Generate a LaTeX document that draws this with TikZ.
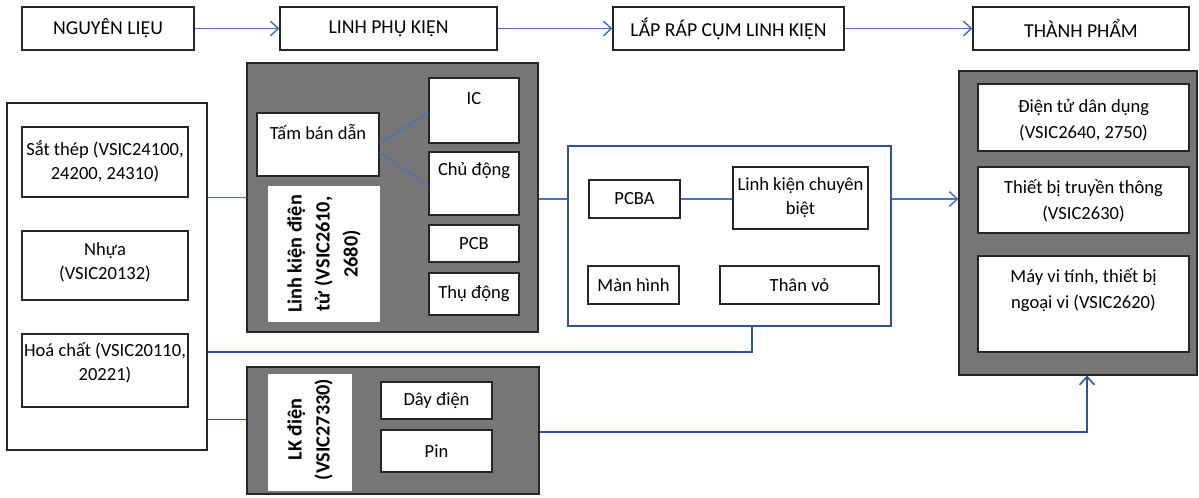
\documentclass[tikz,border=0pt]{standalone}
\usepackage{fontspec}
\setmainfont{Carlito}
\usetikzlibrary{arrows.meta,fit,calc}

\definecolor{lineblue}{HTML}{4472C4}
\definecolor{darkblue}{HTML}{2F5597}
\definecolor{panelgray}{HTML}{767676}

\newcommand\toptext{\fontsize{14.8}{18}\selectfont}
\newcommand\boxtext{\fontsize{13.9}{18}\selectfont}
\newcommand\goodstext{\fontsize{13.9}{19.5}\selectfont}
\newcommand\tagtext{\fontsize{15.2}{21}\selectfont\bfseries}

\tikzset{
  box/.style={draw=black!85, fill=white, line width=0.8pt, inner sep=0pt},
  panel/.style={draw=black!85, fill=panelgray, line width=0.8pt, inner sep=0pt},
  tagbox/.style={fill=white, draw=none, inner sep=0pt},
  groupbox/.style={draw=darkblue, fill=white, line width=0.8pt, inner sep=0pt},
  txt/.style={inner sep=0pt, align=center, font=\boxtext},
  toptxt/.style={txt, font=\toptext},
  flow/.style={draw=lineblue, line width=1.1pt,
    -{Straight Barb[length=6pt,width=11pt]}},
  flowdark/.style={draw=darkblue, line width=1.2pt,
    -{Straight Barb[length=6pt,width=11pt]}},
  link/.style={draw=lineblue, line width=0.9pt},
  linkdark/.style={draw=darkblue, line width=0.9pt},
}

\begin{document}
\begin{tikzpicture}[x=0.75pt,y=-0.75pt]
\useasboundingbox (0,0) rectangle (1199,497);

% value chain stages
\node[box, fit={(22,7)(194,50)}] (raw) {};
\node[toptxt] (raw-t) at (raw.center) {NGUYÊN LIỆU};
\node[box, fit={(280,7)(497,50)}] (parts) {};
\node[toptxt] (parts-t) at (parts.center) {LINH PHỤ KIỆN};
\node[box, fit={(613,7)(844,50)}] (asm) {};
\node[toptxt] (asm-t) at (asm.center) {LẮP RÁP CỤM LINH KIỆN};
\node[box, fit={(973,7)(1189,50)}] (prod) {};
\node[toptxt] (prod-t) at (prod.center) {THÀNH PHẨM};

\draw[flow] (raw.east) -- (parts.west);
\draw[flow] (parts.east) -- (asm.west);
\draw[flow] (asm.east) -- (prod.west);

% raw materials
\node[box, fit={(7,103)(207,450)}] (matl) {};
\node[box, fit={(22,127)(188,197)}] (steel) {};
\node[txt] (steel-t) at (105,161) {Sắt thép (VSIC24100,\\24200, 24310)};
\node[box, fit={(22,231)(188,300)}] (plastic) {};
\node[txt] (plastic-t) at (105,262) {Nhựa\\(VSIC20132)};
\node[box, fit={(22,334)(188,407)}] (chem) {};
\node[txt] (chem-t) at (105,363) {Hoá chất (VSIC20110,\\20221)};

% electronic components
\node[panel, fit={(247,63)(538,332)}] (elec) {};
\node[box, fit={(257,113)(379,176)}] (wafer) {};
\node[txt] (wafer-t) at (318,132) {Tấm bán dẫn};
\node[tagbox, fit={(268,186)(380,322)}] (elec-tag) {};
\node[txt, font=\tagtext, rotate=90] (elec-t) at (elec-tag.center)
  {Linh kiện điện\\tử (VSIC2610,\\2680)};
\node[box, fit={(429,78)(519,143)}] (ic) {};
\node[txt] (ic-t) at (474,99) {IC};
\node[box, fit={(429,152)(519,215)}] (active) {};
\node[txt] (active-t) at (474,171) {Chủ động};
\node[box, fit={(429,225)(519,262)}] (pcb) {};
\node[txt] (pcb-t) at (pcb.center) {PCB};
\node[box, fit={(429,273)(519,315)}] (passive) {};
\node[txt] (passive-t) at (passive.center) {Thụ động};

\draw[link] ($(wafer.east)+(0,-1.5)$) -- ($(ic.west)+(0,2.5)$);
\draw[link] ($(wafer.east)+(0,7.5)$) -- ($(active.west)+(0,2.5)$);

% electrical components
\node[panel, fit={(247,367)(539,494)}] (wire) {};
\node[tagbox, fit={(268,374)(352,491)}] (wire-tag) {};
\node[txt, font=\tagtext, rotate=90] (wire-t) at ($(wire-tag.center)+(0,-3)$)
  {LK điện\\(VSIC27330)};
\node[box, fit={(381,382)(492,419)}] (cable) {};
\node[txt] (cable-t) at (cable.center) {Dây điện};
\node[box, fit={(381,430)(492,472)}] (battery) {};
\node[txt] (battery-t) at (battery.center) {Pin};

% assembly group
\node[groupbox, fit={(568,146)(891,326)}] (asmbox) {};
\node[box, fit={(589,180)(680,218)}] (pcba) {};
\node[txt] (pcba-t) at (pcba.center) {PCBA};
\node[box, fit={(733,167)(868,229)}] (special) {};
\node[txt] (special-t) at (special.center) {Linh kiện chuyên\\biệt};
\node[box, fit={(588,266)(679,304)}] (screen) {};
\node[txt] (screen-t) at (screen.center) {Màn hình};
\node[box, fit={(720,266)(879,304)}] (case) {};
\node[txt] (case-t) at (case.center) {Thân vỏ};

% finished goods
\node[panel, fit={(959,71)(1197,375)}] (goods) {};
\node[box, fit={(978,84)(1189,151)}] (consumer) {};
\node[txt, font=\goodstext] (consumer-t) at (1083.5,120)
  {Điện tử dân dụng\\(VSIC2640, 2750)};
\node[box, fit={(978,167)(1189,233)}] (telecom) {};
\node[txt, font=\goodstext] (telecom-t) at (1083.5,201)
  {Thiết bị truyền thông\\(VSIC2630)};
\node[box, fit={(978,256)(1189,352)}] (computer) {};
\node[txt, font=\goodstext] (computer-t) at (1083.5,290)
  {Máy vi tính, thiết bị\\ngoại vi (VSIC2620)};

% links between groups
\draw[link] (matl.east |- steel.south) -- (elec.west |- steel.south);
\draw[link] (elec.east |- pcba) -- (asmbox.west |- pcba);
\draw[link] (pcba.east) -- (special.west |- pcba.east);
\draw[flow] (asmbox.east |- pcba) -- (goods.west |- pcba);
\draw[linkdark] ($(matl.east)+(0,75.5)$) -| ($(asmbox.south)+(22.5,0)$);
\draw[linkdark] (matl.east |- cable.south) -- (wire.west |- cable.south);
\draw[flowdark] ($(wire.east)+(0,1.5)$) -| ($(goods.south)+(9,0)$);
\end{tikzpicture}
\end{document}
